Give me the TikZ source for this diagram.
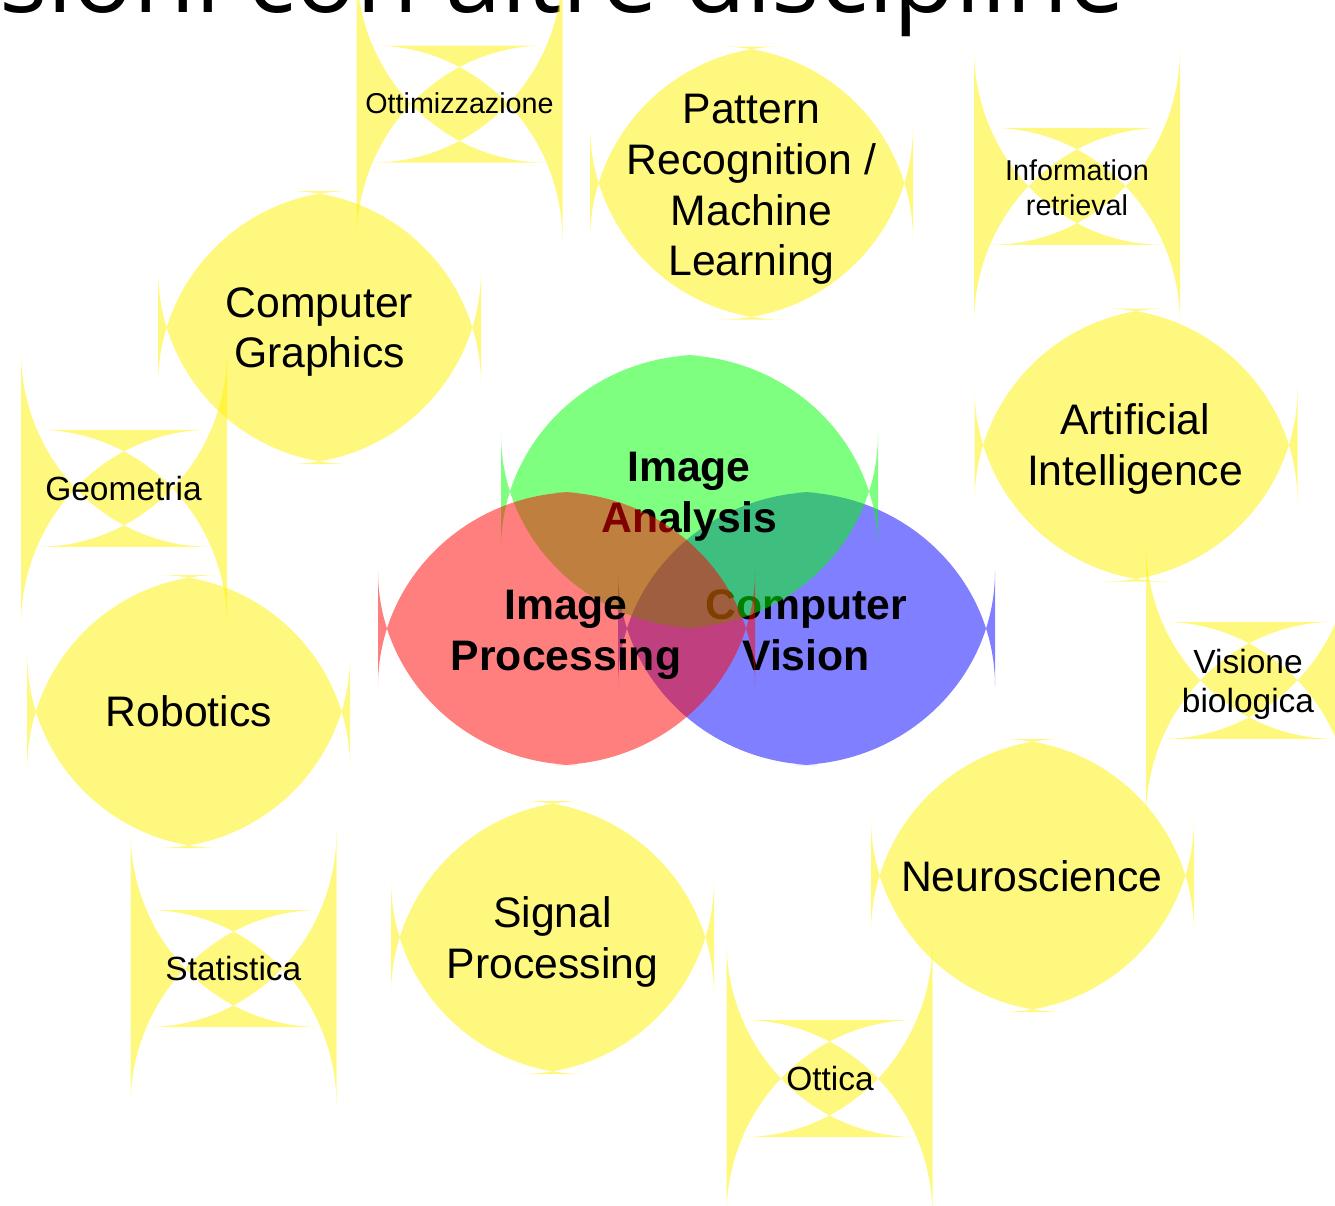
\documentclass[tikz,border=0pt]{standalone}
\usepackage{fontspec}
\setmainfont{Liberation Sans}
\newfontfamily\titlefont{Open Sans}
\newcommand{\blobshape}[7]{%
  \fill[#1] ({#2+#4-#6},{#3-#5})
    arc[start angle=180,end angle=90,x radius=#6,y radius=#7]
    -- ({#2-#4},{#3-#5+#7})
    arc[start angle=90,end angle=0,x radius=#6,y radius=#7]
    -- ({#2-#4+#6},{#3+#5})
    arc[start angle=0,end angle=-90,x radius=#6,y radius=#7]
    -- ({#2+#4},{#3+#5-#7})
    arc[start angle=-90,end angle=-180,x radius=#6,y radius=#7]
    -- cycle;}
\newcommand{\bigblob}[3]{\blobshape{#1}{#2}{#3}{32}{57.5}{193.5}{194}}
\newcommand{\smallblob}[3]{\blobshape{#1}{#2}{#3}{86.5}{137.5}{189.5}{196}}
\newcommand{\vennblob}[3]{\blobshape{#1}{#2}{#3}{12}{57.5}{200.5}{194}}
\tikzset{
  yel/.style={fill=yellow, fill opacity=0.5, even odd rule},
  redf/.style={fill=red, fill opacity=0.5, even odd rule},
  greenf/.style={fill=green, fill opacity=0.5, even odd rule},
  bluef/.style={fill=blue, fill opacity=0.5, even odd rule},
  biglbl/.style={inner sep=0pt, align=center, font=\fontsize{42.7bp}{50.6bp}\selectfont},
  venlbl/.style={inner sep=0pt, align=center, font=\fontsize{42.7bp}{50.6bp}\selectfont\bfseries},
  smalllbl/.style={inner sep=0pt, align=center, font=\fontsize{33.5bp}{38.4bp}\selectfont},
  tinylbl/.style={inner sep=0pt, align=center, font=\fontsize{28.7bp}{35bp}\selectfont},
}
\begin{document}
\begin{tikzpicture}[x=1bp,y=-1bp]
\useasboundingbox (0,0) rectangle (1335,1205);
\clip (0,0) rectangle (1335,1205);
% title
\node[anchor=base west, inner sep=0pt, font=\titlefont\fontsize{101bp}{116bp}\selectfont] (title) at (-1,12) {sioni con altre discipline};
% yellow discipline shapes
\smallblob{yel}{459.5}{104}
\node[tinylbl] (ott) at (459.5,103.5) {Ottimizzazione};
\bigblob{yel}{751.5}{183}
\node[biglbl] (prml) at (751.5,189.5) {Pattern\\Recognition /\\Machine\\Learning};
\smallblob{yel}{1077}{186.3}
\node[tinylbl] (ir) at (1077,188) {Information\\retrieval};
\bigblob{yel}{319.5}{327.5}
\node[biglbl] (cg) at (319.5,332) {Computer\\Graphics};
\bigblob{yel}{1136}{445}
\node[biglbl] (ai) at (1135,449) {Artificial\\Intelligence};
\smallblob{yel}{124}{488.3}
\node[smalllbl] (geo) at (123.5,489) {Geometria};
\smallblob{yel}{1249}{680.3}
\node[smalllbl] (vb) at (1248,684.5) {Visione\\biologica};
\bigblob{yel}{188.7}{711.5}
\node[biglbl] (rob) at (188.8,711) {Robotics};
\bigblob{yel}{1032.5}{875.5}
\node[biglbl] (neuro) at (1031.6,876) {Neuroscience};
\bigblob{yel}{552.5}{937.5}
\node[biglbl] (sp) at (552.5,942) {Signal\\Processing};
\smallblob{yel}{233.5}{968.5}
\node[smalllbl] (stat) at (233.4,968.5) {Statistica};
\smallblob{yel}{829.5}{1078.5}
\node[smalllbl] (ott2) at (830,1078.5) {Ottica};
% Venn core
\vennblob{bluef}{806.5}{628.5}
\node[venlbl] (cv) at (806,630.5) {Computer\\Vision};
\vennblob{greenf}{689.5}{491.5}
\node[venlbl] (ia) at (689,497) {Image\\Analysis};
\vennblob{redf}{566.5}{628.5}
\node[venlbl] (ip) at (566,635) {Image\\Processing};
\end{tikzpicture}
\end{document}
